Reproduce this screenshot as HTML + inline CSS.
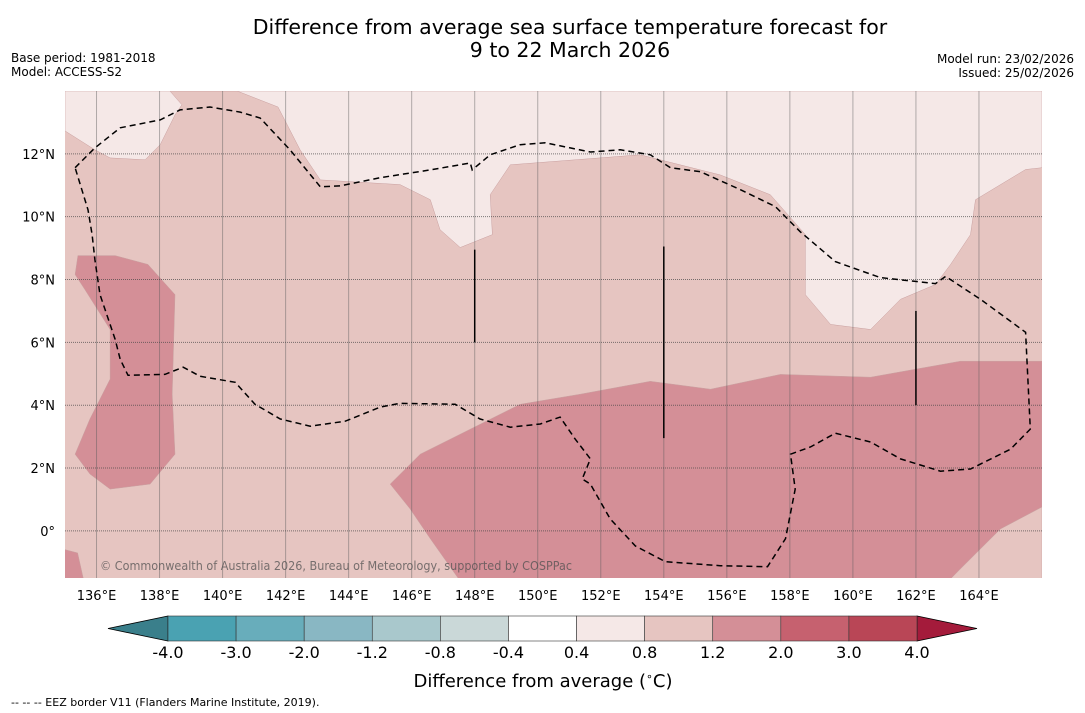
<!DOCTYPE html>
<html><head><meta charset="utf-8">
<style>
body{margin:0;background:#fff;width:1085px;height:713px;overflow:hidden;font-family:"DejaVu Sans","Liberation Sans",sans-serif;}
svg{position:absolute;left:0;top:0}
</style></head>
<body>
<svg id="chart" width="1085" height="713" xmlns="http://www.w3.org/2000/svg">
<text x="570" y="34" font-size="20.5" text-anchor="middle" fill="#000">Difference from average sea surface temperature forecast for</text>
<text x="570" y="57" font-size="20.5" text-anchor="middle" fill="#000">9 to 22 March 2026</text>
<text x="11" y="62" font-size="12">Base period: 1981-2018</text>
<text x="11" y="76" font-size="12">Model: ACCESS-S2</text>
<text x="1074" y="63" font-size="12" text-anchor="end">Model run: 23/02/2026</text>
<text x="1074" y="77" font-size="12" text-anchor="end">Issued: 25/02/2026</text>
<defs><clipPath id="mapclip"><rect x="65" y="91" width="977" height="487"/></clipPath></defs>
<g id="map" clip-path="url(#mapclip)"></g>
<g id="axes"></g>
<g id="cbar"></g>
<text x="543" y="687" font-size="18" text-anchor="middle">Difference from average (<tspan font-size="11" dy="-7">∘</tspan><tspan dy="7">C)</tspan></text>
<text x="11" y="706" font-size="11">--  --  -- EEZ border V11 (Flanders Marine Institute, 2019).</text>
</svg>
<script>
// ---- data ----
const lonTicks = [136,138,140,142,144,146,148,150,152,154,156,158,160,162,164];
const latTicks = [0,2,4,6,8,10,12];
const cbarBounds = ["-4.0","-3.0","-2.0","-1.2","-0.8","-0.4","0.4","0.8","1.2","2.0","3.0","4.0"];
const cbarColors = ["#4aa2b2","#68adbb","#89b7c3","#a9c8cc","#cad8d8","#ffffff","#f5e8e7","#e6c5c1","#d48f97","#c6616f","#b94656"];
const lowArrowColor = "#3a7f8b";
const highArrowColor = "#a41b3b";
const baseLevelColor = "#e6c5c1";
const lightTop = [[135,14],[166,14],[166,11.56],[165.48,11.5],[163.89,10.54],[163.73,9.43],[163.1,8.48],[162.62,7.84],[161.51,7.37],[160.56,6.41],[159.29,6.57],[158.49,7.52],[158.49,9.43],[157.38,10.7],[155.79,11.33],[153.25,11.97],[149.13,11.65],[148.49,10.7],[148.56,9.43],[147.54,9.02],[146.9,9.59],[146.59,10.54],[145.63,11.02],[143.1,11.17],[142.46,12.13],[141.76,13.49],[140.46,14]];
const lightTopLeft = [[135,14],[135,12.73],[135.95,12.13],[136.43,11.87],[137.54,11.81],[138.02,12.29],[138.49,13.24],[138.71,13.56],[138.33,14]];
const darkSouth = [[145.32,1.49],[146.27,2.44],[149.44,4.03],[151.35,4.35],[153.57,4.76],[155.48,4.51],[157.7,4.98],[160.56,4.89],[163.41,5.4],[166,5.4],[166,0.76],[164.68,0.06],[163.41,-1.21],[163.03,-1.6],[147.54,-1.6],[146.59,-0.25],[145.95,0.7]];
const lightSouthEast = [[163.03,-1.6],[166,-1.6],[166,0.76],[164.68,0.06],[163.41,-1.21]];
const darkWest = [[135.41,8.76],[136.59,8.76],[137.63,8.48],[138.49,7.52],[138.4,4.35],[138.49,2.44],[137.7,1.49],[136.43,1.33],[135.79,1.81],[135.32,2.44],[135.79,3.56],[136.43,4.83],[136.43,6.41],[135.63,7.68],[135.32,8.16]];
const darkSouthWest = [[134.9,-0.57],[135.4,-0.7],[135.6,-1.6],[134.9,-1.6]];
const eez = [[135.32,11.56],[135.95,12.19],[136.75,12.83],[138.02,13.08],[138.65,13.4],[139.6,13.49],[140.56,13.33],[141.19,13.14],[142.14,12.13],[143.1,10.95],[143.73,10.98],[145,11.24],[146.59,11.49],[147.86,11.71],[147.92,11.49],[148.49,11.97],[149.44,12.29],[150.24,12.35],[151.03,12.19],[151.67,12.06],[152.62,12.13],[153.57,11.97],[154.21,11.56],[155.16,11.43],[156.43,10.86],[157.54,10.32],[158.33,9.52],[159.44,8.57],[160.87,8.06],[162.62,7.87],[162.94,8.1],[164.05,7.37],[165.48,6.32],[165.63,3.24],[165,2.6],[163.73,1.97],[162.78,1.9],[161.51,2.29],[160.56,2.83],[159.44,3.11],[158.65,2.67],[158.02,2.44],[158.17,1.33],[157.86,-0.25],[157.29,-1.14],[155.79,-1.11],[154.05,-0.98],[153.1,-0.48],[152.3,0.38],[151.67,1.49],[151.41,1.65],[151.67,2.29],[151.19,2.92],[150.71,3.62],[150.08,3.4],[149.13,3.3],[148.17,3.56],[147.38,4.03],[145.63,4.06],[145,3.94],[143.89,3.49],[142.78,3.33],[141.83,3.56],[141.03,4.03],[140.4,4.73],[139.29,4.92],[138.75,5.21],[138.17,4.98],[137,4.95],[136.75,5.46],[136.59,6.1],[136.11,7.52],[135.95,8.63],[135.86,9.43],[135.73,10.22],[135.32,11.56]];
const borderLines = [[148,8.95,6],[154,9.05,2.95],[162,7,4]];

// ---- axes ----
const lon0=135, lon1=166, lat0=-1.5, lat1=14;
const X0=65, X1=1042, Y0=91, Y1=578;
const xs = lon => X0 + (lon-lon0)/(lon1-lon0)*(X1-X0);
const ys = lat => Y0 + (lat1-lat)/(lat1-lat0)*(Y1-Y0);
const NS="http://www.w3.org/2000/svg";
function mk(tag, attrs, parent){const e=document.createElementNS(NS,tag);for(const k in attrs)e.setAttribute(k,attrs[k]);parent.appendChild(e);return e;}
const map=document.getElementById('map'), axes=document.getElementById('axes'), cbar=document.getElementById('cbar');
const pts = arr => arr.map(p=>xs(p[0]).toFixed(1)+','+ys(p[1]).toFixed(1)).join(' ');

let bg = mk('rect',{x:X0,y:Y0,width:X1-X0,height:Y1-Y0,fill:baseLevelColor},map);


const regions=[[lightTop,cbarColors[6],'level-0.4-0.8-north'],[lightTopLeft,cbarColors[6],'level-0.4-0.8-northwest'],[darkSouth,cbarColors[8],'level-1.2-2.0-south'],[lightSouthEast,baseLevelColor,'level-0.8-1.2-southeast'],[darkWest,cbarColors[8],'level-1.2-2.0-west'],[darkSouthWest,cbarColors[8],'level-1.2-2.0-southwest']];
regions.forEach(r=>{
  const p=mk('polygon',{points:pts(r[0]),fill:r[1],stroke:'#c9a0a0','stroke-width':0.5},map);
  
  
});
lonTicks.forEach(l=>{
  const g=mk('line',{x1:xs(l),x2:xs(l),y1:Y0,y2:Y1,stroke:'rgba(90,90,90,0.45)','stroke-width':1},map);
  
  
});
latTicks.forEach(l=>{
  const g=mk('line',{x1:X0,x2:X1,y1:ys(l),y2:ys(l),stroke:'rgba(70,70,70,0.7)','stroke-width':1,'stroke-dasharray':'1,1'},map);
  
  
});
const e=mk('polyline',{points:pts(eez),fill:'none',stroke:'#000','stroke-width':1.5,'stroke-dasharray':'6,4'},map);


borderLines.forEach(b=>{
  const l=mk('line',{x1:xs(b[0]),x2:xs(b[0]),y1:ys(b[1]),y2:ys(b[2]),stroke:'#000','stroke-width':1.5},map);
  
  
});
const cp=mk('text',{x:100,y:570,'font-size':12,fill:'rgba(80,80,80,0.75)',textLength:472,lengthAdjust:'spacingAndGlyphs'},map);
cp.textContent='© Commonwealth of Australia 2026, Bureau of Meteorology, supported by COSPPac';



lonTicks.forEach(l=>{
  const t=mk('text',{x:xs(l),y:600,'font-size':13,'text-anchor':'middle'},axes);
  t.textContent=l+'°E';
  
  
});
latTicks.forEach(l=>{
  const t=mk('text',{x:55,y:ys(l)+5,'font-size':13,'text-anchor':'end'},axes);
  t.textContent=l===0?'0°':l+'°N';
  
  
});

// ---- colorbar ----
const CB0=168, CB1=917, CBy=616, CBh=25;
const bw=(CB1-CB0)/cbarColors.length;
const la=mk('polygon',{points:`${CB0},${CBy} ${CB0},${CBy+CBh} 108,${CBy+CBh/2}`,fill:lowArrowColor,stroke:'#000','stroke-width':0.8},cbar);


const ra=mk('polygon',{points:`${CB1},${CBy} ${CB1},${CBy+CBh} 977,${CBy+CBh/2}`,fill:highArrowColor,stroke:'#000','stroke-width':0.8},cbar);


cbarColors.forEach((c,i)=>{
  const r=mk('rect',{x:CB0+i*bw,y:CBy,width:bw,height:CBh,fill:c,stroke:'#333','stroke-width':0.6},cbar);
  
  
});
cbarBounds.forEach((b,i)=>{
  const t=mk('text',{x:CB0+i*bw,y:658,'font-size':16,'text-anchor':'middle'},cbar);
  t.textContent=b;
  
  
});
</script>
</body></html>
